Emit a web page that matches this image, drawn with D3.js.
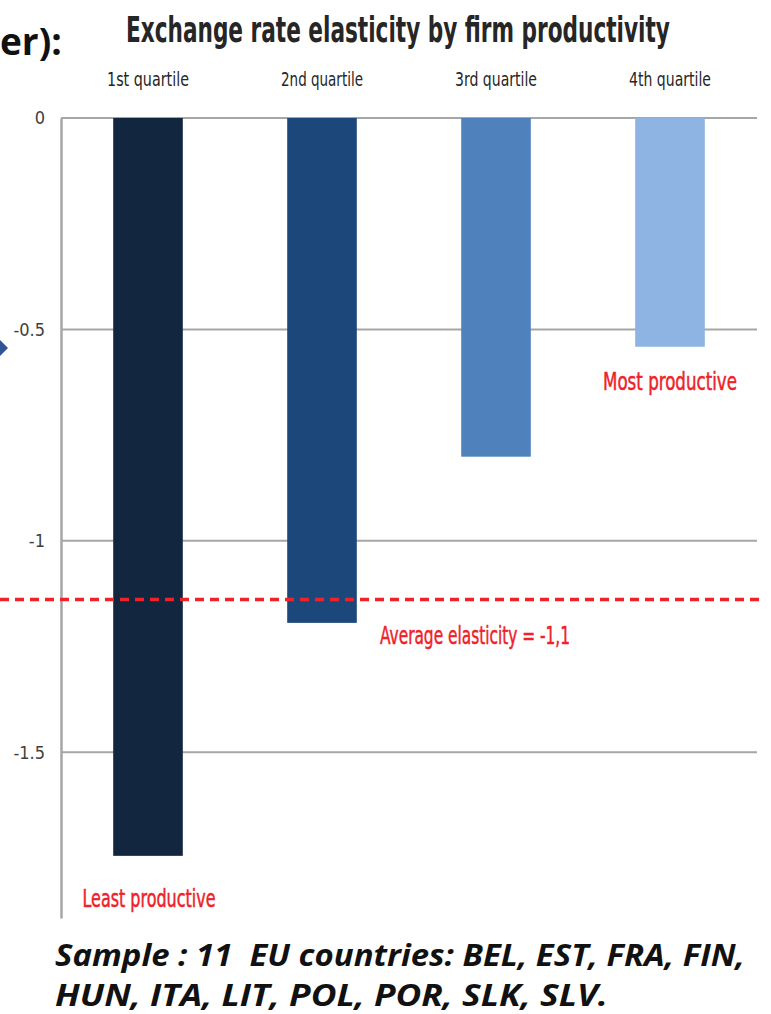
<!DOCTYPE html>
<html>
<head>
<meta charset="utf-8">
<script src="https://cdn.jsdelivr.net/npm/d3@7"></script>
<style>
  body { margin: 0; background: #fff; }
  svg { display: block; }
  .narrow { font-family: "Liberation Sans Narrow", "DejaVu Sans Condensed", "Roboto", sans-serif; }
</style>
</head>
<body>
<div id="chart"></div>
<script>
// data
const quartiles = ['1st quartile', '2nd quartile', '3rd quartile', '4th quartile'];
const elasticity = [-1.745, -1.194, -0.801, -0.541];
const barColors = ['#12263f', '#1c477a', '#4f81bd', '#8eb4e3'];
const yTicks = [0, -0.5, -1, -1.5];
const averageElasticity = -1.139;

const width = 771, height = 1014;
const margin = { top: 118, left: 61, right: 14, bottom: 96 };

const svg = d3.select('#chart').append('svg')
    .attr('width', width)
    .attr('height', height);

// scale a text horizontally to a given width, keeping its anchor point
function fitWidth(sel, target, anchorX, y) {
    sel.each(function(d, i) {
        const t = d3.select(this);
        const natural = this.getComputedTextLength();
        const w = typeof target === 'function' ? target(d, i) : target;
        const x = typeof anchorX === 'function' ? anchorX(d, i) : anchorX;
        const yy = typeof y === 'function' ? y(d, i) : y;
        const s = w / natural;
        t.attr('x', 0).attr('y', 0)
            .attr('transform', `translate(${x},${yy}) scale(${s},1)`);
    });
}

const xScale = d3.scaleBand()
    .domain(quartiles)
    .range([margin.left, width - margin.right])
    .paddingInner(0.6)
    .paddingOuter(0.3);

const yScale = d3.scaleLinear()
    .domain([0, -1.892])
    .range([margin.top, height - margin.bottom]);

// gridlines
svg.append('g')
    .selectAll('line')
    .data(yTicks)
    .enter().append('line')
    .attr('x1', margin.left)
    .attr('x2', width - margin.right)
    .attr('y1', d => yScale(d))
    .attr('y2', d => yScale(d))
    .attr('stroke', '#a6a6a6')
    .attr('stroke-width', 2);

// y axis
const yAxis = d3.axisLeft(yScale)
    .tickValues(yTicks)
    .tickSize(0)
    .tickPadding(16)
    .tickFormat(d => d === 0 ? '0' : String(d));

const yAxisG = svg.append('g')
    .attr('transform', `translate(${margin.left},0)`)
    .call(yAxis);
yAxisG.select('.domain').attr('stroke', '#a6a6a6').attr('stroke-width', 2.5);
yAxisG.selectAll('text')
    .attr('class', 'narrow')
    .attr('font-size', 18)
    .attr('fill', '#404040');

// bars
svg.append('g')
    .selectAll('rect')
    .data(quartiles)
    .enter().append('rect')
    .attr('x', d => xScale(d))
    .attr('y', yScale(0))
    .attr('width', xScale.bandwidth())
    .attr('height', (d, i) => yScale(elasticity[i]) - yScale(0))
    .attr('fill', (d, i) => barColors[i]);

// category labels on top
svg.append('g')
    .selectAll('text')
    .data(quartiles)
    .enter().append('text')
    .attr('class', 'narrow')
    .attr('text-anchor', 'middle')
    .attr('font-size', 20)
    .attr('fill', '#262626')
    .text(d => d)
    .call(fitWidth, 82, d => xScale(d) + xScale.bandwidth() / 2, 86);

// average line
svg.append('line')
    .attr('x1', 0)
    .attr('x2', 765)
    .attr('y1', yScale(averageElasticity))
    .attr('y2', yScale(averageElasticity))
    .attr('stroke', '#ee2228')
    .attr('stroke-width', 3.5)
    .attr('stroke-dasharray', '9,6');

// red annotations
const notes = [
    { text: 'Most productive', x: 670, y: 390, len: 134 },
    { text: 'Average elasticity = -1,1', x: 475, y: 644, len: 190 },
    { text: 'Least productive', x: 149, y: 907, len: 133 }
];
svg.append('g')
    .selectAll('text')
    .data(notes)
    .enter().append('text')
    .attr('class', 'narrow')
    .attr('text-anchor', 'middle')
    .attr('font-size', 25)
    .attr('fill', '#ee2228')
    .attr('stroke', '#ee2228')
    .attr('stroke-width', 0.5)
    .text(d => d.text)
    .call(fitWidth, d => d.len, d => d.x, d => d.y);

// title
svg.append('text')
    .attr('class', 'narrow')
    .attr('font-size', 35)
    .attr('font-weight', 'bold')
    .attr('fill', '#262626')
    .text('Exchange rate elasticity by firm productivity')
    .call(fitWidth, 544, 126, 42);

// slide heading fragment on the left
svg.append('text')
    .attr('x', 0)
    .attr('y', 55)
    .attr('font-family', '"Open Sans", "Noto Sans", sans-serif')
    .attr('font-size', 37)
    .attr('font-weight', 'bold')
    .attr('fill', '#111')
    .text('er):');

// cut-off arrow head
svg.append('path')
    .attr('d', 'M-8,348 L0,340 L8,348 L0,356 Z')
    .attr('fill', '#2f5597');

// sample note
const sampleLines = ['Sample : 11  EU countries: BEL, EST, FRA, FIN,', 'HUN, ITA, LIT, POL, POR, SLK, SLV.'];
svg.append('g')
    .selectAll('text')
    .data(sampleLines)
    .enter().append('text')
    .attr('font-family', '"Open Sans", "Noto Sans", sans-serif')
    .attr('font-size', 30)
    .attr('font-weight', 'bold')
    .attr('font-style', 'italic')
    .attr('fill', '#111')
    .style('white-space', 'pre')
    .text(d => d)
    .call(fitWidth, (d, i) => i === 0 ? 690 : 553, 55, (d, i) => 966 + i * 40);
</script>
</body>
</html>
